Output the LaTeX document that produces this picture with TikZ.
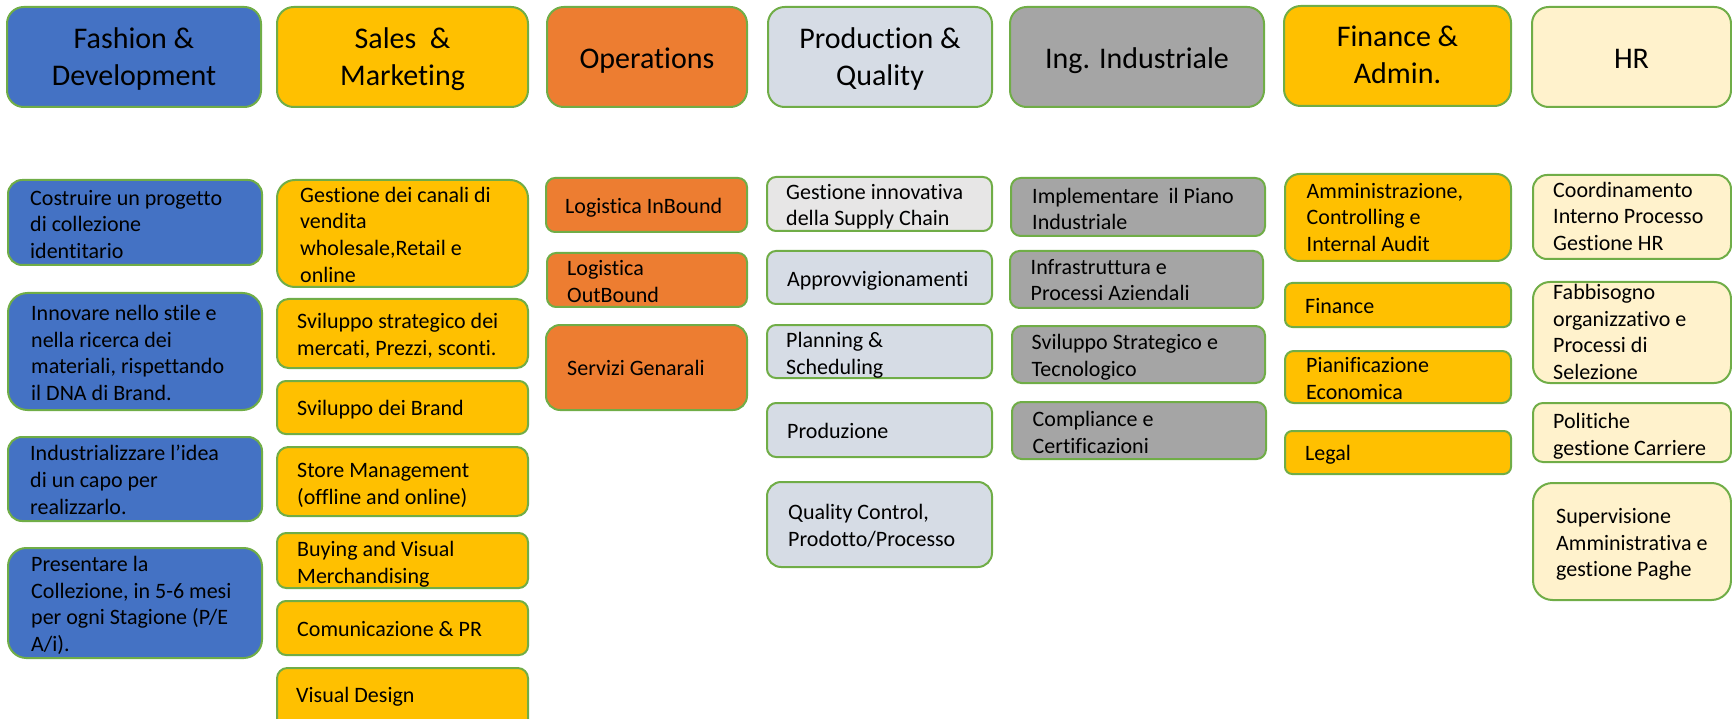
\documentclass[tikz,border=0pt]{standalone}
\usepackage{fontspec}
\setmainfont{Carlito}[Ligatures=NoCommon]
\definecolor{cgreen}{HTML}{70AD47}
\definecolor{cblue}{HTML}{4472C4}
\definecolor{cgold}{HTML}{FFC000}
\definecolor{corange}{HTML}{ED7D31}
\definecolor{cprod}{HTML}{D6DCE5}
\definecolor{clgray}{HTML}{E7E6E6}
\definecolor{cgray}{HTML}{A5A5A5}
\definecolor{ccream}{HTML}{FFF2CC}
\tikzset{
  box/.style={draw=cgreen, line width=2pt, inner sep=0pt},
  txt/.style={anchor=north west, inner sep=0pt, yshift=18.76pt, align=left, font=\fontsize{22}{26.8}\selectfont},
  htxt/.style={anchor=north, inner sep=0pt, yshift=25.62pt, align=center, font=\fontsize{30}{36.6}\selectfont},
}
\newcommand\bx[6]{%
  \pgfmathsetmacro\rr{0.1667*min(#4-#2,#5-#3)}%
  \node[box, fill=#6, rounded corners=\rr pt, minimum width={(#4-#2)*1pt}, minimum height={(#5-#3)*1pt}] (#1) at ({(#2+#4)/2},{(#3+#5)/2}) {};}
\newcommand\tx[4]{\node[txt] (#1) at (#2,#3) {\strut #4\strut};}
\newcommand\hx[4]{\node[htxt] (#1) at (#2,#3) {\strut #4\strut};}
\begin{document}
\begin{tikzpicture}[x=1pt,y=-1pt]
\useasboundingbox (0,0) rectangle (1732,719);
% headers
\bx{h1}{7}{7}{261}{107}{cblue}
\bx{h2}{277}{7}{528}{107}{cgold}
\bx{h3}{547}{7}{747}{107}{corange}
\bx{h4}{768}{7}{992}{107}{cprod}
\bx{h5}{1010}{7}{1264}{107}{cgray}
\bx{h6}{1284}{6}{1511}{106}{cgold}
\bx{h7}{1532}{7}{1731}{107}{ccream}
\hx{ht1}{134}{48.3}{Fashion \&\\Development}
\hx{ht2}{402.5}{48.3}{Sales\ \ \&\\Marketing}
\hx{ht3}{647}{68.3}{Operations}
\hx{ht4}{880}{48.3}{Production \&\\Quality}
\hx{ht5}{1137}{68.3}{Ing. Industriale}
\hx{ht6}{1397.5}{46.5}{Finance \&\\Admin.}
\hx{ht7}{1631.5}{68.3}{HR}
% Fashion & Development
\bx{f1}{8}{180}{262}{265}{cblue}
\bx{f2}{8}{293}{262}{410}{cblue}
\bx{f3}{8}{437}{262}{521}{cblue}
\bx{f4}{8}{548}{262}{658}{cblue}
\tx{ft1}{30}{205}{Costruire un progetto\\di collezione\\identitario}
\tx{ft2}{31}{320}{Innovare nello stile e\\nella ricerca dei\\materiali, rispettando\\il DNA di Brand.}
\tx{ft3}{30}{460.5}{Industrializzare l’idea\\di un capo per\\realizzarlo.}
\tx{ft4}{31}{571}{Presentare la\\Collezione, in 5-6 mesi\\per ogni Stagione (P/E\\A/i).}
% Sales & Marketing
\bx{s1}{277}{180}{528}{287}{cgold}
\bx{s2}{277}{299}{528}{368}{cgold}
\bx{s3}{277}{381}{528}{434}{cgold}
\bx{s4}{277}{447}{528}{516}{cgold}
\bx{s5}{277}{533}{528}{588}{cgold}
\bx{s6}{277}{601}{528}{655}{cgold}
\bx{s7}{277}{668}{528}{730}{cgold}
\tx{st1}{300}{202}{Gestione dei canali di\\vendita\\wholesale,Retail e\\online}
\tx{st2}{297}{328.6}{Sviluppo strategico dei\\mercati, Prezzi, sconti.}
\tx{st3}{297}{415.6}{Sviluppo dei Brand}
\tx{st4}{297}{477}{Store Management\\(offline and online)}
\tx{st5}{297}{556}{Buying and Visual\\Merchandising}
\tx{st6}{297}{636.7}{Comunicazione \& PR}
\tx{st7}{296}{702.7}{Visual Design}
% Operations
\bx{o1}{546}{178}{747}{232}{corange}
\bx{o2}{547}{253}{747}{307}{corange}
\bx{o3}{546}{325}{747}{410}{corange}
\tx{ot1}{565}{213}{Logistica InBound}
\tx{ot2}{567}{275}{Logistica\\OutBound}
\tx{ot3}{567}{375}{Servizi Genarali}
% Production & Quality
\bx{p1}{767}{177}{992}{231}{clgray}
\bx{p2}{767}{251}{992}{304}{cprod}
\bx{p3}{767}{325}{992}{378}{cprod}
\bx{p4}{767}{403}{992}{457}{cprod}
\bx{p5}{767}{482}{992}{567}{cprod}
\tx{pt1}{786}{199}{Gestione innovativa\\della Supply Chain}
\tx{pt2}{787}{286}{Approvvigionamenti}
\tx{pt3}{786}{347}{Planning \&\\Scheduling}
\tx{pt4}{787}{438}{Produzione}
\tx{pt5}{788}{519}{Quality Control,\\Prodotto/Processo}
% Ing. Industriale
\bx{i1}{1011}{178}{1265}{236}{cgray}
\bx{i2}{1010}{251}{1263}{308}{cgray}
\bx{i3}{1012}{326}{1265}{383}{cgray}
\bx{i4}{1012}{402}{1266}{459}{cgray}
\tx{it1}{1032}{203}{Implementare~ il Piano\\Industriale}
\tx{it2}{1030.5}{274}{Infrastruttura e\\Processi Aziendali}
\tx{it3}{1031.5}{349}{Sviluppo Strategico e\\Tecnologico}
\tx{it4}{1032.5}{426}{Compliance e\\Certificazioni}
% Finance & Admin
\bx{n1}{1285}{174}{1511}{261}{cgold}
\bx{n2}{1285}{283}{1511}{327}{cgold}
\bx{n3}{1285}{351}{1511}{403}{cgold}
\bx{n4}{1285}{431}{1511}{474}{cgold}
\tx{nt1}{1306.5}{198}{Amministrazione,\\Controlling e\\Internal Audit}
\tx{nt2}{1305}{313}{Finance}
\tx{nt3}{1306}{372}{Pianificazione\\Economica}
\tx{nt4}{1305}{460}{Legal}
% HR
\bx{r1}{1533}{175}{1731}{259}{ccream}
\bx{r2}{1533}{282}{1731}{383}{ccream}
\bx{r3}{1533}{403}{1731}{462}{ccream}
\bx{r4}{1533}{483}{1731}{600}{ccream}
\tx{rt1}{1553}{197}{Coordinamento\\Interno Processo\\Gestione HR}
\tx{rt2}{1553}{299}{Fabbisogno\\organizzativo e\\Processi di\\Selezione}
\tx{rt3}{1553}{428}{Politiche\\gestione Carriere}
\tx{rt4}{1556}{523}{Supervisione\\Amministrativa e\\gestione Paghe}
\end{tikzpicture}
\end{document}
